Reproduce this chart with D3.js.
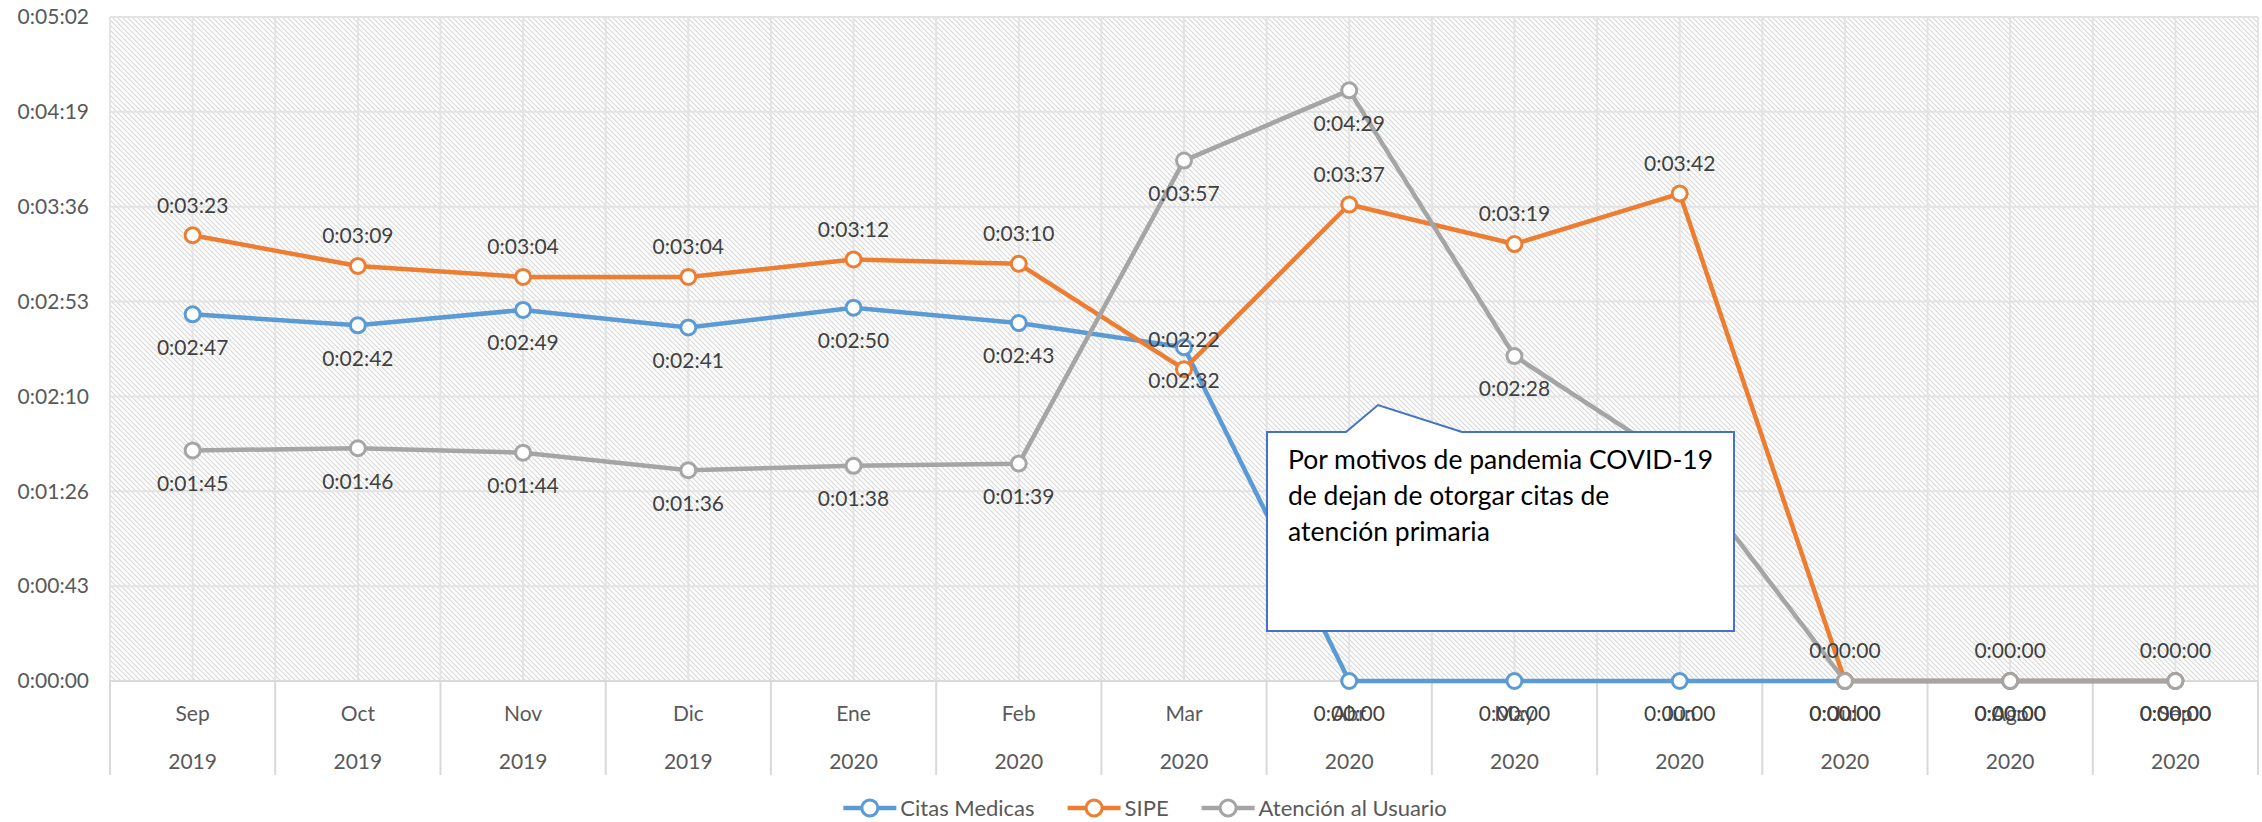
<!DOCTYPE html>
<html><head><meta charset="utf-8">
<script src="https://cdn.jsdelivr.net/npm/d3@7"></script>
<style>body{margin:0;background:#fff;} svg{display:block;font-family:Lato,"Open Sans",sans-serif;}</style>
</head><body>
<svg id="chart" width="2262" height="822"></svg>
<script>
const months = ["Sep","Oct","Nov","Dic","Ene","Feb","Mar","Abr","May","Jun","Jul","Ago","Sep"];
const years  = ["2019","2019","2019","2019","2020","2020","2020","2020","2020","2020","2020","2020","2020"];
// values in seconds
const citasMedicas = [167,162,169,161,170,163,152,0,0,0,0,0,0];
const sipe         = [203,189,184,184,192,190,142,217,199,222,0,0,0];
const atencion     = [105,106,104,96,98,99,237,269,148,99,0,0,0];
const yTicks = [0,43.2,86.4,129.6,172.8,216,259.2,302.4];
const seriesNames = ["Citas Medicas","SIPE","Atención al Usuario"];
const calloutLines = ["Por motivos de pandemia COVID-19","de dejan de otorgar citas de","atención primaria"];

const colors = ["#5B9BD5","#ED7D31","#A5A5A5"];
const labelOffset = [33, -30, 33]; // below, above, below

const svg = d3.select("#chart");
const L = 110, R = 2258, T = 17, B = 681;
const idx = d3.range(months.length);
const x = d3.scaleBand().domain(idx).range([L, R]).paddingInner(0).paddingOuter(0);
const y = d3.scaleLinear().domain([0, 302.4]).range([B, T]);
const cx = i => x(i) + x.bandwidth()/2;

function fmt(s){
  s = Math.round(s);
  const h = Math.floor(s/3600), m = Math.floor((s%3600)/60), sec = s%60;
  return h + ":" + String(m).padStart(2,"0") + ":" + String(sec).padStart(2,"0");
}

// hatch pattern
const defs = svg.append("defs");
const pat = defs.append("pattern").attr("id","hatch").attr("patternUnits","userSpaceOnUse")
  .attr("width",5).attr("height",5);
pat.append("rect").attr("width",5).attr("height",5).attr("fill","#fff");
pat.append("path").attr("d","M-1,-1 L6,6 M-1,4 L1,6 M4,-1 L6,1")
  .attr("stroke","#d8d8d8").attr("stroke-width",1.1);

svg.append("rect").attr("x",L).attr("y",T).attr("width",R-L).attr("height",B-T).attr("fill","url(#hatch)");

// gridlines horizontal
svg.append("g").selectAll("line").data(yTicks).join("line")
  .attr("x1",L).attr("x2",R).attr("y1",d=>y(d)).attr("y2",d=>y(d))
  .attr("stroke","#e3e3e3").attr("stroke-width",2);
// gridlines vertical: category boundaries and centers
const vg = [];
idx.forEach(i=>{ vg.push(x(i)); vg.push(cx(i)); });
vg.push(R);
svg.append("g").selectAll("line").data(vg).join("line")
  .attr("x1",d=>d).attr("x2",d=>d).attr("y1",T).attr("y2",B)
  .attr("stroke","#e3e3e3").attr("stroke-width",2);

// y axis labels
const yAxis = d3.axisLeft(y).tickValues(yTicks).tickFormat(fmt).tickSize(0).tickPadding(0);
const gy = svg.append("g").attr("transform",`translate(${L-21},0)`).call(yAxis);
gy.select(".domain").remove();
gy.selectAll("text").attr("font-size",21).attr("fill","#595959").attr("font-family","Lato");

// x axis
svg.append("line").attr("x1",L).attr("x2",R).attr("y1",B).attr("y2",B).attr("stroke","#d9d9d9").attr("stroke-width",2);
const sep = idx.map(i=>x(i)).concat([R]);
svg.append("g").selectAll("line").data(sep).join("line")
  .attr("x1",d=>d).attr("x2",d=>d).attr("y1",B).attr("y2",775)
  .attr("stroke","#d9d9d9").attr("stroke-width",2);
const xAxis = d3.axisBottom(x).tickFormat(i=>months[i]).tickSize(0).tickPadding(0);
const gx = svg.append("g").attr("transform",`translate(0,${B})`).call(xAxis);
gx.select(".domain").remove();
gx.selectAll("text").attr("dy",null).attr("y",40).attr("font-size",21).attr("fill","#595959").attr("font-family","Lato");
svg.append("g").selectAll("text").data(idx).join("text")
  .attr("x",i=>cx(i)).attr("y",B+88).attr("text-anchor","middle")
  .attr("font-size",21).attr("fill","#595959").text(i=>years[i]);

// series
const allSeries = [citasMedicas, sipe, atencion];
const line = d3.line().x((d,i)=>cx(i)).y(d=>y(d));
allSeries.forEach((vals,s)=>{
  const g = svg.append("g");
  g.append("path").datum(vals).attr("d",line).attr("fill","none")
    .attr("stroke",colors[s]).attr("stroke-width",4.5).attr("stroke-linejoin","round");
  g.selectAll("circle").data(vals).join("circle")
    .attr("cx",(d,i)=>cx(i)).attr("cy",d=>y(d)).attr("r",7.5)
    .attr("fill","#fff").attr("stroke",colors[s]).attr("stroke-width",3);
});
// data labels
allSeries.forEach((vals,s)=>{
  svg.append("g").selectAll("text").data(vals).join("text")
    .attr("x",(d,i)=>cx(i))
    .attr("y",d=>y(d)+labelOffset[s])
    .attr("dy","0.35em").attr("text-anchor","middle")
    .attr("font-size",21).attr("fill","#404040").text(d=>fmt(d));
});

// callout
const co = svg.append("g");
co.append("path")
  .attr("d","M1267,432 L1346,432 L1378,405 L1462,432 L1734,432 L1734,631 L1267,631 Z")
  .attr("fill","#fff").attr("stroke","#4472C4").attr("stroke-width",2);
co.selectAll("text").data(calloutLines).join("text")
  .attr("x",1288).attr("y",(d,i)=>469+i*36)
  .attr("font-size",26.5).attr("fill","#000").text(d=>d);

// legend
const lg = svg.append("g");
let lx = 0;
seriesNames.forEach((n,s)=>{
  const it = lg.append("g").attr("transform",`translate(${lx},0)`);
  it.append("line").attr("x1",0).attr("x2",53).attr("y1",0).attr("y2",0).attr("stroke",colors[s]).attr("stroke-width",4.5);
  it.append("circle").attr("cx",26.5).attr("cy",0).attr("r",8).attr("fill","#fff").attr("stroke",colors[s]).attr("stroke-width",3);
  const t = it.append("text").attr("x",57).attr("y",0).attr("dy","0.35em").attr("font-size",22).attr("fill","#595959").text(n);
  lx += 57 + t.node().getComputedTextLength() + 33;
});
const lw = lx - 33;
lg.attr("transform",`translate(${1145 - lw/2},808)`);
</script>
</body></html>
